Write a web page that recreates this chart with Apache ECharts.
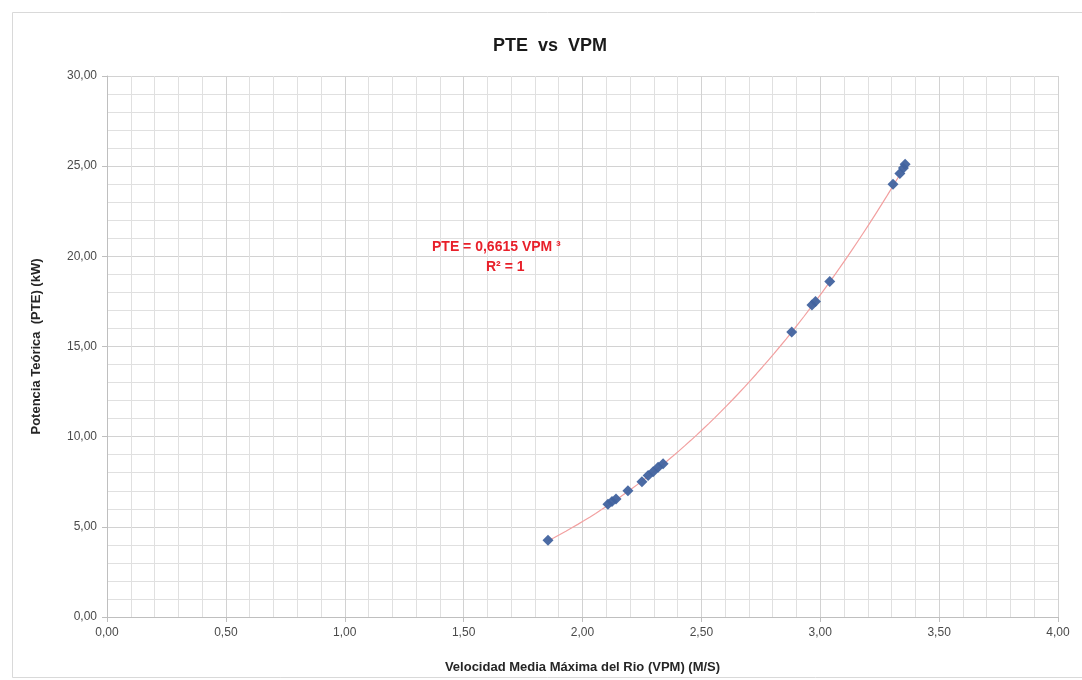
<!DOCTYPE html>
<html>
<head>
<meta charset="utf-8">
<script src="https://cdn.jsdelivr.net/npm/echarts@6/dist/echarts.min.js"></script>
<style>html,body{margin:0;padding:0;background:#fff;}#c{width:1082px;height:680px;}</style>
</head>
<body>
<div id="c"></div>
<script>
// Data
const vpm = [1.855, 2.107, 2.124, 2.141, 2.191, 2.250, 2.276, 2.297, 2.318, 2.339, 2.88, 2.965, 2.98, 3.04, 3.306, 3.335, 3.35, 3.357];
const pte = [4.25, 6.25, 6.40, 6.55, 7.00, 7.50, 7.85, 8.05, 8.30, 8.50, 15.80, 17.30, 17.50, 18.60, 24.00, 24.60, 24.90, 25.10];
const trendCoef = 0.6615;   // from the chart's trendline label
const xTicks = [0, 0.5, 1, 1.5, 2, 2.5, 3, 3.5, 4];
const yTicks = [0, 5, 10, 15, 20, 25, 30];

const points = vpm.map((v, i) => [v, pte[i]]);
const xMinData = Math.min(...vpm), xMaxData = Math.max(...vpm);
const trend = [];
for (let k = 0; k <= 60; k++) {
  const x = xMinData + (xMaxData - xMinData) * k / 60;
  trend.push([x, trendCoef * x * x * x]);
}
const fmt = v => v.toFixed(2).replace('.', ',');

const chart = echarts.init(document.getElementById('c'), null, {renderer: 'canvas'});
const gridColor = '#d2d2d2';
chart.setOption({
  animation: false,
  backgroundColor: '#fff',
  title: {
    text: 'PTE  vs  VPM', left: 545, top: 32, textAlign: 'center',
    textStyle: {fontFamily: 'Liberation Sans, Arial, sans-serif', fontSize: 18, fontWeight: 'bold', color: '#1a1a1a'}
  },
  grid: {left: 107, right: 24, top: 76, bottom: 63},
  xAxis: {
    type: 'value', min: xTicks[0], max: xTicks[xTicks.length - 1], interval: 0.5,
    name: 'Velocidad Media Máxima del Rio (VPM) (M/S)', nameLocation: 'middle', nameGap: 44,
    nameTextStyle: {fontFamily: 'Liberation Sans, Arial, sans-serif', fontSize: 13, fontWeight: 'bold', color: '#262626'},
    axisLine: {show: true, lineStyle: {color: '#bfbfbf'}},
    axisTick: {show: true, length: 5, lineStyle: {color: '#bfbfbf'}},
    axisLabel: {formatter: fmt, color: '#4a4a4a', fontSize: 12, fontFamily: 'Liberation Sans, Arial, sans-serif', margin: 10},
    splitLine: {show: true, lineStyle: {color: gridColor, width: 1}},
    minorTick: {show: false, splitNumber: 5},
    minorSplitLine: {show: true, lineStyle: {color: '#e0e0e0', width: 1}}
  },
  yAxis: {
    type: 'value', min: yTicks[0], max: yTicks[yTicks.length - 1], interval: 5,
    name: 'Potencia Teórica  (PTE) (kW)', nameLocation: 'middle', nameGap: 64, nameRotate: 90,
    nameTextStyle: {fontFamily: 'Liberation Sans, Arial, sans-serif', fontSize: 13, fontWeight: 'bold', color: '#262626'},
    axisLine: {show: true, lineStyle: {color: '#bfbfbf'}},
    axisTick: {show: true, length: 5, lineStyle: {color: '#bfbfbf'}},
    axisLabel: {formatter: fmt, color: '#4a4a4a', fontSize: 12, fontFamily: 'Liberation Sans, Arial, sans-serif', margin: 10},
    splitLine: {show: true, lineStyle: {color: gridColor, width: 1}},
    minorTick: {show: false, splitNumber: 5},
    minorSplitLine: {show: true, lineStyle: {color: '#e0e0e0', width: 1}}
  },
  series: [
    {
      type: 'line', data: trend, showSymbol: false, symbol: 'none', smooth: false,
      lineStyle: {color: '#f2a0a0', width: 1.2}, z: 2, silent: true
    },
    {
      type: 'scatter', data: points, symbol: 'diamond', symbolSize: 11,
      itemStyle: {color: '#41639f', opacity: 0.95}, z: 3
    }
  ],
  graphic: [
    {type: 'rect', shape: {x: 12.5, y: 12.5, width: 1100, height: 665}, style: {fill: 'none', stroke: '#d9d9d9', lineWidth: 1}, silent: true, z: -10},
    {type: 'text', left: 432, top: 240, style: {text: 'PTE = 0,6615 VPM ³', fill: '#e8202a', font: 'bold 14px "Liberation Sans", Arial, sans-serif'}, z: 10},
    {type: 'text', left: 486, top: 260, style: {text: 'R² = 1', fill: '#e8202a', font: 'bold 14px "Liberation Sans", Arial, sans-serif'}, z: 10}
  ]
});
</script>
</body>
</html>
